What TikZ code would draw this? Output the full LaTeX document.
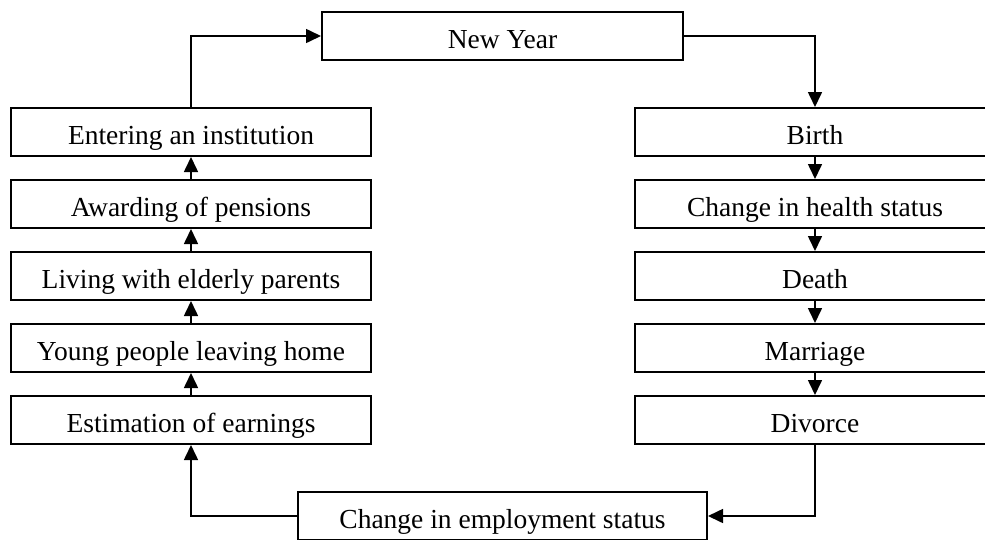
\documentclass[tikz,border=0pt]{standalone}
\usepackage{fontspec}
\setmainfont{Liberation Serif}
\usetikzlibrary{arrows.meta}
\begin{document}
\begin{tikzpicture}[x=1pt,y=-1pt,
  box/.style={draw=black, line width=2pt, rectangle, inner sep=0pt,
    minimum height=48pt, text height=25pt, text depth=0pt,
    font=\fontsize{27.5}{30}\selectfont},
  colbox/.style={box, minimum width=360pt},
  arr/.style={draw=black, line width=1.6pt, -{Triangle[width=14pt,length=15pt]}}]
\clip (0,0) rectangle (985,539);
\fill[white] (0,0) rectangle (985,539);
% top
\node[box, minimum width=361pt] (ny) at (502.5,36) {New Year};
% left column
\node[colbox] (ent) at (191,132) {Entering an institution};
\node[colbox] (awd) at (191,204) {Awarding of pensions};
\node[colbox] (liv) at (191,276) {Living with elderly parents};
\node[colbox] (yng) at (191,348) {Young people leaving home};
\node[colbox] (est) at (191,420) {Estimation of earnings};
% right column
\node[colbox] (bir) at (815,132) {Birth};
\node[colbox] (hea) at (815,204) {Change in health status};
\node[colbox] (dea) at (815,276) {Death};
\node[colbox] (mar) at (815,348) {Marriage};
\node[colbox] (div) at (815,420) {Divorce};
% bottom
\node[box, minimum width=409pt] (emp) at (502.5,516) {Change in employment status};
% connectors
\draw[arr] (ent.north) |- (ny.west);
\draw[arr] (ny.east) -| (bir.north);
\draw[arr] (bir.south) -- (hea.north);
\draw[arr] (hea.south) -- (dea.north);
\draw[arr] (dea.south) -- (mar.north);
\draw[arr] (mar.south) -- (div.north);
\draw[arr] (div.south) |- (emp.east);
\draw[arr] (emp.west) -| (est.south);
\draw[arr] (est.north) -- (yng.south);
\draw[arr] (yng.north) -- (liv.south);
\draw[arr] (liv.north) -- (awd.south);
\draw[arr] (awd.north) -- (ent.south);
\end{tikzpicture}
\end{document}
